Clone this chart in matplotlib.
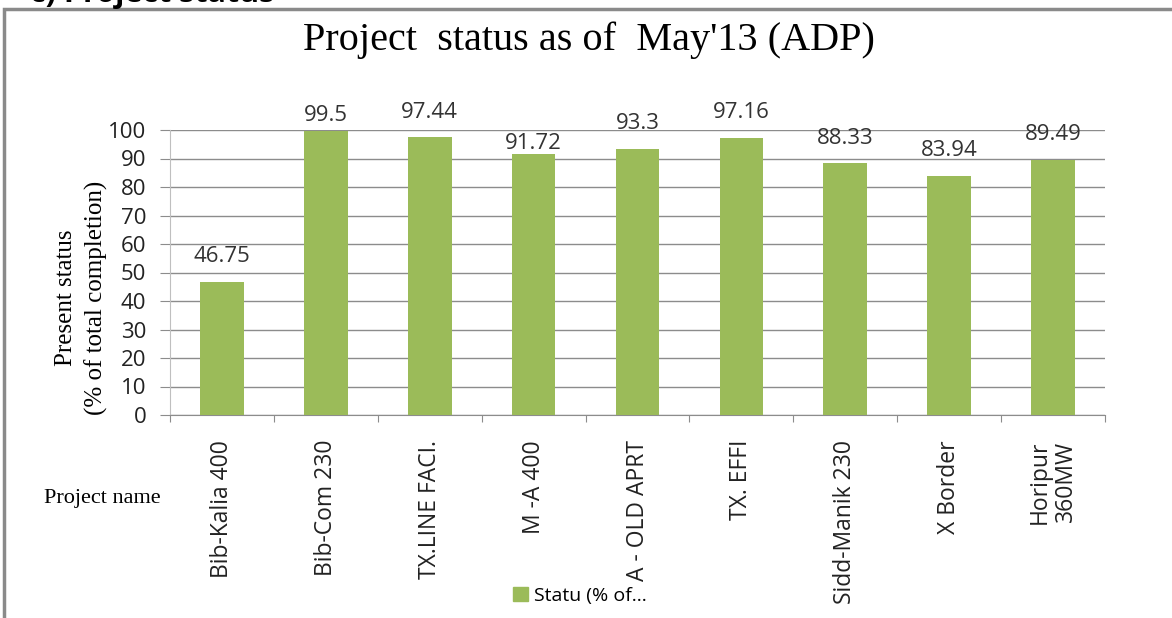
#!/usr/bin/env python
# Filename: plot.py
"""
introduction: bar chart of project status (% of total completion) as of May'13 (ADP)
"""

import matplotlib
matplotlib.use('Agg')
import matplotlib.pyplot as plt
from matplotlib.patches import Rectangle, Patch

# data
projects = ['Bib-Kalia 400', 'Bib-Com 230', 'TX.LINE FACI.', 'M -A 400', 'A - OLD APRT',
            'TX. EFFI', 'Sidd-Manik 230', 'X Border', 'Horipur\n360MW']
status = [46.75, 99.5, 97.44, 91.72, 93.3, 97.16, 88.33, 83.94, 89.49]
value_labels = ['46.75', '99.5', '97.44', '91.72', '93.3', '97.16', '88.33', '83.94', '89.49']
y_ticks = [0, 10, 20, 30, 40, 50, 60, 70, 80, 90, 100]

bar_color = '#9BBB59'
grid_color = '#8c8c8c'
sans = ['Open Sans', 'DejaVu Sans']
serif = ['Liberation Serif', 'DejaVu Serif']

# excel moved a few data labels around, distance (pixels) from bar top to label centre
label_shift = [25, 16, 25, 10, 26, 26, 25, 25, 25]

fig = plt.figure(figsize=(11.72, 6.18), dpi=100)
ax = fig.add_axes([170 / 1172, 1 - 415 / 618, 935 / 1172, 285 / 618])

x = list(range(len(projects)))
ax.bar(x, status, width=0.42, color=bar_color, zorder=3)

for xi, v, lab, dy in zip(x, status, value_labels, label_shift):
    ax.annotate(lab, (xi, v), xytext=(0, dy), textcoords='offset pixels',
                ha='center', va='center', fontsize=16, family=sans, color='#333333')

ax.set_xlim(-0.5, len(projects) - 0.5)
ax.set_ylim(0, 100)
ax.set_yticks(y_ticks)
ax.set_yticklabels([str(t) for t in y_ticks], family=sans, fontsize=16, color='#222222')
ax.yaxis.grid(True, color=grid_color, linewidth=1.0, zorder=0)
ax.tick_params(axis='y', length=7, color=grid_color, pad=10)

# category boundary ticks like excel
ax.set_xticks([i - 0.5 for i in range(len(projects) + 1)], minor=False)
ax.set_xticklabels([''] * (len(projects) + 1))
ax.tick_params(axis='x', which='major', length=5, color=grid_color, direction='out')
ax.set_xticks(x, minor=True)
ax.set_xticklabels(projects, minor=True, rotation=90, family=sans, fontsize=16.5,
                   va='top', ha='center', color='#222222', linespacing=1.15)
ax.tick_params(axis='x', which='minor', length=0, pad=18)

for side in ['top', 'right']:
    ax.spines[side].set_visible(False)
ax.spines['left'].set_color('#bfbfbf')
ax.spines['bottom'].set_color(grid_color)

# title and axis texts
fig.text(589 / 1172, 1 - 40 / 618, "Project  status as of  May'13 (ADP)", ha='center', va='center',
         family=serif, fontsize=29)
fig.text(66 / 1172, 1 - 298 / 618, 'Present status', rotation=90, ha='center', va='center',
         family=serif, fontsize=18)
fig.text(96 / 1172, 1 - 298 / 618, '(% of total completion)', rotation=90, ha='center', va='center',
         family=serif, fontsize=18)
fig.text(102 / 1172, 1 - 498 / 618, 'Project name', ha='center', va='center',
         family=serif, fontsize=16)

# legend
leg = fig.legend(handles=[Patch(color=bar_color, label='Statu (% of...')],
                 loc='center', bbox_to_anchor=(580 / 1172, 1 - 596 / 618), frameon=False,
                 prop={'family': 'Open Sans', 'size': 14}, handlelength=0.75, handleheight=0.75,
                 handletextpad=0.3)

# chart border, cut by the picture edges
fig.patches.append(Rectangle((4 / 1172, -0.1), 1.2, 1.1 - 9 / 618,
                             transform=fig.transFigure, fill=False, edgecolor='#8a8a8a',
                             linewidth=2.5, clip_on=False))

# the heading of the page, mostly cut off at the top
fig.text(30 / 1172, 1 - 2 / 618, 'c) Project status', ha='left', va='baseline',
         fontsize=22, fontweight='bold', family=sans)

fig.savefig('out.png', dpi=100)
